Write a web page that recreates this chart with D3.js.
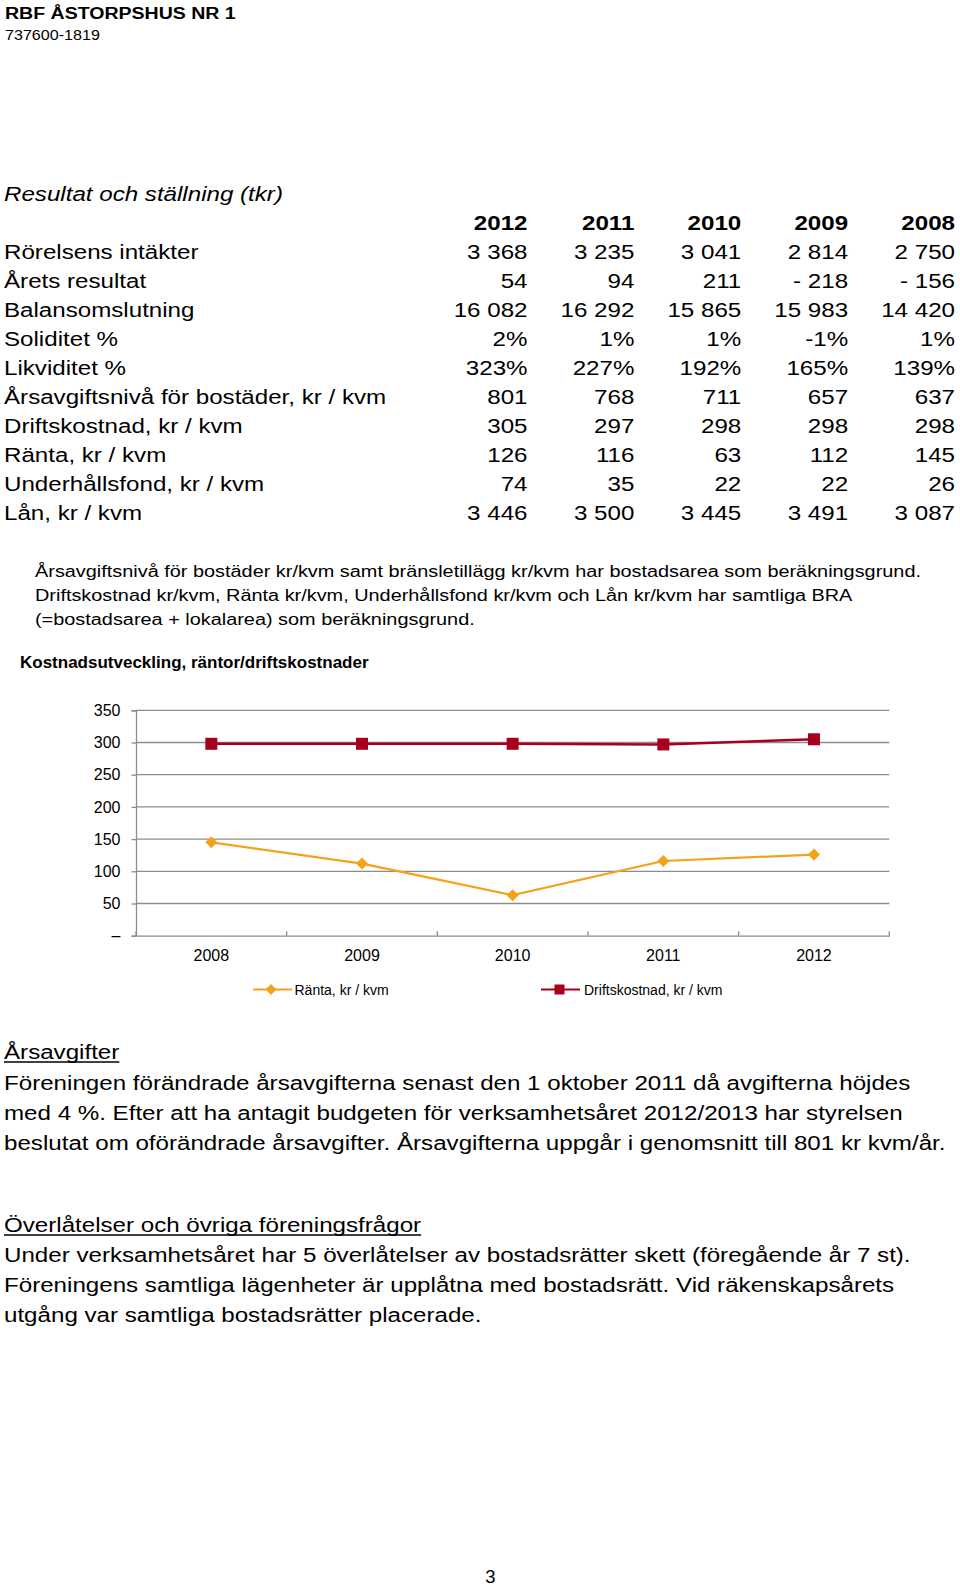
<!DOCTYPE html>
<html>
<head>
<meta charset="utf-8">
<script src="https://cdn.jsdelivr.net/npm/d3@7/dist/d3.min.js"></script>
<style>
  html, body { margin: 0; padding: 0; background: #fff; }
  svg { display: block; }
  text { font-family: "Liberation Sans", Arial, sans-serif; fill: #000; }
</style>
</head>
<body>
<svg id="page" width="960" height="1586"></svg>
<script>
// ---------------- DATA ----------------
const orgName = "RBF ÅSTORPSHUS NR 1";
const orgNumber = "737600-1819";
const tableTitle = "Resultat och ställning (tkr)";
const tableYears = ["2012", "2011", "2010", "2009", "2008"];

const rorelsensIntakter = ["3 368", "3 235", "3 041", "2 814", "2 750"];
const aretsResultat = ["54", "94", "211", "- 218", "- 156"];
const balansomslutning = ["16 082", "16 292", "15 865", "15 983", "14 420"];
const soliditet = ["2%", "1%", "1%", "-1%", "1%"];
const likviditet = ["323%", "227%", "192%", "165%", "139%"];
const arsavgiftsniva = ["801", "768", "711", "657", "637"];
const driftskostnad = ["305", "297", "298", "298", "298"];
const ranta = ["126", "116", "63", "112", "145"];
const underhallsfond = ["74", "35", "22", "22", "26"];
const lan = ["3 446", "3 500", "3 445", "3 491", "3 087"];

const rowLabels = [
  "Rörelsens intäkter", "Årets resultat", "Balansomslutning", "Soliditet %",
  "Likviditet %", "Årsavgiftsnivå för bostäder, kr / kvm", "Driftskostnad, kr / kvm",
  "Ränta, kr / kvm", "Underhållsfond, kr / kvm", "Lån, kr / kvm"
];
const rowValues = [rorelsensIntakter, aretsResultat, balansomslutning, soliditet,
  likviditet, arsavgiftsniva, driftskostnad, ranta, underhallsfond, lan];

const noteLines = [
  "Årsavgiftsnivå för bostäder kr/kvm samt bränsletillägg kr/kvm har bostadsarea som beräkningsgrund.",
  "Driftskostnad kr/kvm, Ränta kr/kvm, Underhållsfond kr/kvm och Lån kr/kvm har samtliga BRA",
  "(=bostadsarea + lokalarea) som beräkningsgrund."
];

const chartTitle = "Kostnadsutveckling, räntor/driftskostnader";
const chartYears = ["2008", "2009", "2010", "2011", "2012"];
const rantaSeries = [145, 112, 63, 116, 126];
const driftSeries = [298, 298, 298, 297, 305];
const yTickValues = [0, 50, 100, 150, 200, 250, 300, 350];
const seriesNames = ["Ränta, kr / kvm", "Driftskostnad, kr / kvm"];

const section1Heading = "Årsavgifter";
const section1Lines = [
  "Föreningen förändrade årsavgifterna senast den 1 oktober 2011 då avgifterna höjdes",
  "med 4 %. Efter att ha antagit budgeten för verksamhetsåret 2012/2013 har styrelsen",
  "beslutat om oförändrade årsavgifter. Årsavgifterna uppgår i genomsnitt till 801 kr kvm/år."
];
const section2Heading = "Överlåtelser och övriga föreningsfrågor";
const section2Lines = [
  "Under verksamhetsåret har 5 överlåtelser av bostadsrätter skett (föregående år 7 st).",
  "Föreningens samtliga lägenheter är upplåtna med bostadsrätt. Vid räkenskapsårets",
  "utgång var samtliga bostadsrätter placerade."
];
const pageNumber = "3";

// ---------------- HELPERS ----------------
const svg = d3.select("#page");
const SX = 1.15; // horizontal stretch of document text

function txt(g, x, y, s, o = {}) {
  const t = g.append("text")
    .attr("transform", `translate(${x},${y}) scale(${o.sx ?? SX},1)`)
    .attr("font-size", o.size ?? 21)
    .attr("font-weight", o.weight ?? "normal")
    .attr("font-style", o.style ?? "normal")
    .attr("text-anchor", o.anchor ?? "start")
    .text(s);
  if (o.fill) t.style("fill", o.fill);
  return t;
}
function underline(g, t, x, y, sx) {
  const w = t.node().getComputedTextLength() * sx;
  g.append("line").attr("x1", x).attr("x2", x + w)
    .attr("y1", y).attr("y2", y).attr("stroke", "#000").attr("stroke-width", 1.3);
}

// ---------------- HEADER ----------------
const head = svg.append("g");
txt(head, 5, 18.5, orgName, { size: 17, weight: "bold" });
txt(head, 5, 40, orgNumber, { size: 14 });

// ---------------- TABLE ----------------
const tbl = svg.append("g");
txt(tbl, 4, 201, tableTitle, { size: 21, style: "italic" });
const colX = d3.scalePoint().domain(tableYears).range([527.5, 955]);
const rowY = d3.scalePoint().domain(d3.range(rowLabels.length)).range([259, 520]);
tableYears.forEach(y => txt(tbl, colX(y), 230, y, { size: 21, weight: "bold", anchor: "end" }));
rowLabels.forEach((lab, i) => {
  txt(tbl, 4, rowY(i), lab, { size: 21 });
  rowValues[i].forEach((v, j) => txt(tbl, colX(tableYears[j]), rowY(i), v, { size: 21, anchor: "end" }));
});

// ---------------- NOTES ----------------
const notes = svg.append("g");
const noteY = d3.scalePoint().domain(d3.range(noteLines.length)).range([577, 625]);
noteLines.forEach((l, i) => txt(notes, 35, noteY(i), l, { size: 17.3 }));

// ---------------- CHART ----------------
const chart = svg.append("g");
txt(chart, 20, 668, chartTitle, { size: 17, weight: "bold", sx: 1 });

const plot = { left: 136, right: 889.3, top: 710.3, bottom: 935.7 };
const x = d3.scaleBand().domain(chartYears).range([plot.left, plot.right]);
const y = d3.scaleLinear().domain([0, 350]).range([plot.bottom, plot.top]);
const gridColor = "#8c8c8c";

// gridlines
chart.append("g").selectAll("line").data(yTickValues.filter(v => v > 0)).join("line")
  .attr("x1", plot.left).attr("x2", plot.right)
  .attr("y1", d => y(d)).attr("y2", d => y(d))
  .attr("stroke", gridColor).attr("stroke-width", 1.3);

// y axis
const yAxis = chart.append("g").attr("transform", `translate(${plot.left},0)`)
  .call(d3.axisLeft(y).tickValues(yTickValues).tickSize(4.5).tickPadding(11)
    .tickFormat(d => d === 0 ? "–" : d));
yAxis.select(".domain").attr("stroke", gridColor).attr("stroke-width", 1.3);
yAxis.selectAll(".tick line").attr("stroke", gridColor).attr("stroke-width", 1.3);
yAxis.selectAll(".tick text").attr("font-size", 16).style("font-family", "'Liberation Sans', Arial, sans-serif").style("fill", "#000");

// x axis (labels centered in bands, ticks at band boundaries pointing up)
const xAxis = chart.append("g").attr("transform", `translate(0,${plot.bottom})`)
  .call(d3.axisBottom(x).tickSize(0).tickPadding(14));
xAxis.select(".domain").attr("stroke", gridColor).attr("stroke-width", 1.3);
xAxis.selectAll(".tick text").attr("font-size", 16).style("font-family", "'Liberation Sans', Arial, sans-serif").style("fill", "#000");
const boundaries = chartYears.map(c => x(c)).concat([plot.right]);
chart.append("g").selectAll("line").data(boundaries).join("line")
  .attr("x1", d => d).attr("x2", d => d)
  .attr("y1", plot.bottom - 4.5).attr("y2", plot.bottom)
  .attr("stroke", gridColor).attr("stroke-width", 1.3);

const cx = d => x(d) + x.bandwidth() / 2;
const orange = "#F5A21B";
const red = "#A8001C";

const rantaPts = chartYears.map((c, i) => [cx(c), y(rantaSeries[i])]);
const driftPts = chartYears.map((c, i) => [cx(c), y(driftSeries[i])]);
const line = d3.line();

chart.append("path").attr("d", line(driftPts)).attr("fill", "none")
  .attr("stroke", red).attr("stroke-width", 2.4);
chart.append("g").selectAll("rect").data(driftPts).join("rect")
  .attr("x", d => d[0] - 6).attr("y", d => d[1] - 6)
  .attr("width", 12).attr("height", 12).attr("fill", red);

chart.append("path").attr("d", line(rantaPts)).attr("fill", "none")
  .attr("stroke", orange).attr("stroke-width", 2.2);
const diamond = (cxp, cyp, r) => `M${cxp},${cyp - r}L${cxp + r},${cyp}L${cxp},${cyp + r}L${cxp - r},${cyp}Z`;
chart.append("g").selectAll("path").data(rantaPts).join("path")
  .attr("d", d => diamond(d[0], d[1], 6)).attr("fill", orange);

// legend
const leg = chart.append("g");
const legY = 989.5;
const legendItems = [
  { name: seriesNames[0], color: orange, shape: "diamond", x1: 253, x2: 292, mx: 271, tx: 294.5 },
  { name: seriesNames[1], color: red, shape: "square", x1: 541, x2: 580, mx: 559.5, tx: 584 }
];
legendItems.forEach(it => {
  leg.append("line").attr("x1", it.x1).attr("x2", it.x2).attr("y1", legY).attr("y2", legY)
    .attr("stroke", it.color).attr("stroke-width", 2.2);
  if (it.shape === "diamond") {
    leg.append("path").attr("d", diamond(it.mx, legY, 5.5)).attr("fill", it.color);
  } else {
    leg.append("rect").attr("x", it.mx - 5).attr("y", legY - 5).attr("width", 10).attr("height", 10).attr("fill", it.color);
  }
  txt(leg, it.tx, legY + 5, it.name, { size: 14, sx: 1 });
});

// ---------------- SECTIONS ----------------
const sec = svg.append("g");
const h1 = txt(sec, 4, 1059, section1Heading, { size: 21 });
underline(sec, h1, 4, 1062, SX);
const s1Y = d3.scalePoint().domain(d3.range(section1Lines.length)).range([1090, 1150]);
section1Lines.forEach((l, i) => txt(sec, 4, s1Y(i), l, { size: 21 }));

const h2 = txt(sec, 4, 1232, section2Heading, { size: 21 });
underline(sec, h2, 4, 1235, SX);
const s2Y = d3.scalePoint().domain(d3.range(section2Lines.length)).range([1262, 1322]);
section2Lines.forEach((l, i) => txt(sec, 4, s2Y(i), l, { size: 21 }));

txt(svg, 490.5, 1583, pageNumber, { size: 18.5, anchor: "middle", sx: 1 });
</script>
</body>
</html>
